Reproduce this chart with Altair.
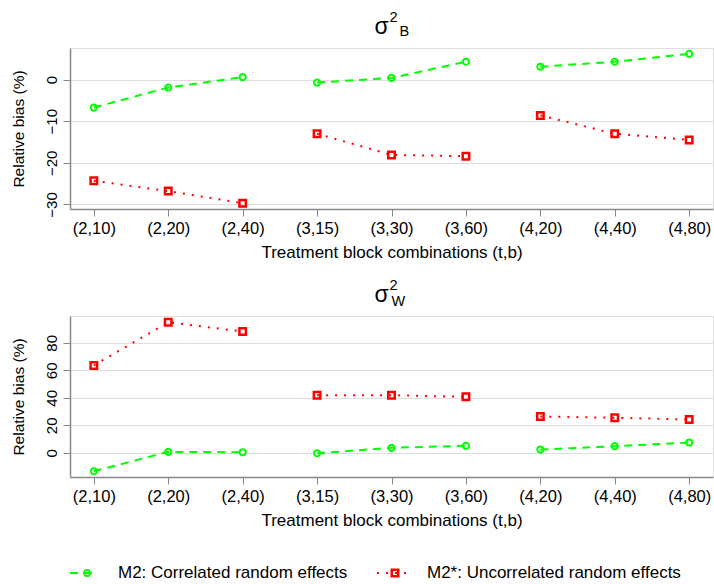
import altair as alt
import pandas as pd

# ---- data ----
combos = ["(2,10)", "(2,20)", "(2,40)", "(3,15)", "(3,30)", "(3,60)", "(4,20)", "(4,40)", "(4,80)"]
t_groups = [2, 2, 2, 3, 3, 3, 4, 4, 4]
sigB_m2 = [-6.7, -1.9, 0.6, -0.7, 0.4, 4.3, 3.1, 4.3, 6.2]
sigB_m2s = [-24.3, -26.8, -29.7, -13.0, -18.1, -18.4, -8.6, -13.0, -14.5]
sigW_m2 = [-13.4, 0.7, 0.4, -0.3, 3.6, 5.1, 2.4, 4.8, 7.5]
sigW_m2s = [63.5, 95.0, 88.2, 41.9, 41.9, 40.7, 26.4, 25.5, 24.2]
series_names = ["M2: Correlated random effects", "M2*: Uncorrelated random effects"]
yticks_B = [0, -10, -20, -30]
yticks_W = [0, 20, 40, 60, 80]
x_title = "Treatment block combinations (t,b)"
y_title = "Relative bias (%)"

GREEN = "#00FF00"
RED = "#FF0000"
FONT = "Liberation Sans"
W, H = 643, 161


def panel(v_m2, v_m2s, ydomain, yticks, sub, legend=False):
    d1 = pd.DataFrame({"combo": combos, "t": t_groups, "value": v_m2})
    d2 = pd.DataFrame({"combo": combos, "t": t_groups, "value": v_m2s})
    x = alt.X("combo:N", sort=combos,
              scale=alt.Scale(type="point", padding=0.32),
              axis=alt.Axis(title=x_title, labelAngle=0, tickSize=7,
                            labelFontSize=16.5, titleFontSize=17, titleFontWeight="normal",
                            labelPadding=4, titlePadding=8, domainWidth=1.5))
    y = alt.Y("value:Q",
              scale=alt.Scale(domain=ydomain, nice=False, zero=False),
              axis=alt.Axis(values=yticks, title=y_title, tickSize=7,
                            labelAngle=270, labelAlign="center", labelBaseline="bottom",
                            labelFontSize=15, titleFontSize=15.5, titleFontWeight="normal",
                            labelPadding=4, titlePadding=18, domainWidth=1.5))
    l1 = alt.Chart(d1).mark_line(color=GREEN, strokeDash=[8, 6], strokeWidth=2).encode(x=x, y=y, detail="t:N")
    l2 = alt.Chart(d2).mark_line(color=RED, strokeDash=[2, 7], strokeWidth=2).encode(x=x, y=y, detail="t:N")
    p1 = alt.Chart(d1).mark_point(shape="circle", filled=False, color=GREEN, size=38, strokeWidth=2, opacity=1).encode(x=x, y=y)
    p2 = alt.Chart(d2).mark_point(shape="square", filled=False, color=RED, size=42, strokeWidth=2.5, opacity=1).encode(x=x, y=y)

    dummy = alt.Data(values=[{"k": 1}])
    t_sigma = alt.Chart(dummy).mark_text(text="σ", font=FONT, fontSize=23, align="center",
                                         baseline="alphabetic", color="black").encode(
        x=alt.value(W / 2 - 10), y=alt.value(-14))
    t_sup = alt.Chart(dummy).mark_text(text="2", font=FONT, fontSize=14.5, align="left",
                                       baseline="alphabetic", color="black").encode(
        x=alt.value(W / 2 - 2), y=alt.value(-26))
    t_sub = alt.Chart(dummy).mark_text(text=sub, font=FONT, fontSize=14.5, align="left",
                                       baseline="alphabetic", color="black").encode(
        x=alt.value(W / 2 + (8 if sub == "B" else 0)), y=alt.value(-12 if sub == "B" else -10))
    layers = [l1, l2, p1, p2, t_sigma, t_sup, t_sub]

    if legend:
        ly = 257
        lg_rule1 = alt.Chart(dummy).mark_rule(color=GREEN, strokeDash=[8, 6], strokeWidth=2).encode(
            x=alt.value(0), x2=alt.value(27), y=alt.value(ly))
        lg_pt1 = alt.Chart(dummy).mark_point(shape="circle", filled=False, color=GREEN, size=38,
                                             strokeWidth=2, opacity=1).encode(x=alt.value(17), y=alt.value(ly))
        lg_txt1 = alt.Chart(dummy).mark_text(text=series_names[0], font=FONT, fontSize=17, align="left",
                                             baseline="middle", color="black").encode(
            x=alt.value(48), y=alt.value(ly))
        lg_rule2 = alt.Chart(dummy).mark_rule(color=RED, strokeDash=[2, 7], strokeWidth=2).encode(
            x=alt.value(307), x2=alt.value(337), y=alt.value(ly))
        lg_pt2 = alt.Chart(dummy).mark_point(shape="square", filled=False, color=RED, size=42,
                                             strokeWidth=2.5, opacity=1).encode(x=alt.value(325), y=alt.value(ly))
        lg_txt2 = alt.Chart(dummy).mark_text(text=series_names[1], font=FONT, fontSize=17, align="left",
                                             baseline="middle", color="black").encode(
            x=alt.value(357), y=alt.value(ly))
        layers += [lg_rule1, lg_pt1, lg_txt1, lg_rule2, lg_pt2, lg_txt2]

    return alt.layer(*layers).properties(width=W, height=H)


top = panel(sigB_m2, sigB_m2s, [-31.1, 7.6], yticks_B, "B")
bottom = panel(sigW_m2, sigW_m2s, [-17.6, 99.5], yticks_W, "W", legend=True)

chart = alt.vconcat(top, bottom, spacing=16).properties(
    padding={"left": 10, "top": 9, "right": 0, "bottom": 0}
).configure_view(stroke="black", strokeWidth=1.2).configure_axis(
    grid=False, domainColor="black", tickColor="black", labelColor="black",
    titleColor="black", labelFont=FONT, titleFont=FONT
).configure(background="white")

chart.save("out.html", embed_options={"renderer": "svg", "actions": False})
